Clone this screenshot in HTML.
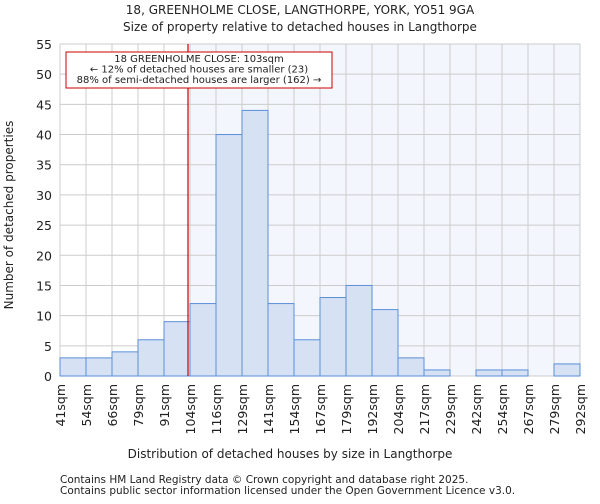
<!DOCTYPE html>
<html><head><meta charset="utf-8"><style>
body{margin:0;background:#fff;font-family:"DejaVu Sans","Liberation Sans",sans-serif}
svg text{font-family:"DejaVu Sans","Liberation Sans",sans-serif;fill:#222}
</style></head><body>
<svg width="600" height="500">
<text x="300" y="14" text-anchor="middle" font-size="12">18, GREENHOLME CLOSE, LANGTHORPE, YORK, YO51 9GA</text>
<text x="300" y="31" text-anchor="middle" font-size="12">Size of property relative to detached houses in Langthorpe</text>
<g id="plot"></g>
<text x="290" y="458" text-anchor="middle" font-size="12">Distribution of detached houses by size in Langthorpe</text>
<text transform="translate(13,215) rotate(-90)" text-anchor="middle" font-size="12">Number of detached properties</text>
<text x="60" y="483" font-size="10.5" fill="#444">Contains HM Land Registry data © Crown copyright and database right 2025.</text>
<text x="60" y="494" font-size="10.5" fill="#444">Contains public sector information licensed under the Open Government Licence v3.0.</text>
</svg>
<script>
const binLabels=["41sqm","54sqm","66sqm","79sqm","91sqm","104sqm","116sqm","129sqm","141sqm","154sqm","167sqm","179sqm","192sqm","204sqm","217sqm","229sqm","242sqm","254sqm","267sqm","279sqm","292sqm"];
const counts=[3,3,4,6,9,12,40,44,12,6,13,15,11,3,1,0,1,1,0,2];
const yTicks=[0,5,10,15,20,25,30,35,40,45,50,55];
const propertySize=103;
const NS="http://www.w3.org/2000/svg";
const g=document.getElementById("plot");
const x0=60,x1=580,yTop=44,yBot=376,yMax=55;
const bw=(x1-x0)/counts.length;
const xs=i=>x0+i*bw;
const ys=v=>yBot-(v/yMax)*(yBot-yTop);
const edges=binLabels.map(s=>parseFloat(s));
function sx(v){for(let i=0;i<edges.length-1;i++){if(v>=edges[i]&&v<=edges[i+1])return xs(i)+bw*(v-edges[i])/(edges[i+1]-edges[i]);}return x1;}
function mk(t,a){const e=document.createElementNS(NS,t);for(const k in a)e.setAttribute(k,a[k]);g.appendChild(e);return e;}
const px=sx(propertySize);
let e=mk("rect",{x:px,y:yTop,width:x1-px,height:yBot-yTop,fill:"#f4f6fd"});


yTicks.forEach(t=>{
 let l=mk("line",{x1:x0,x2:x1,y1:ys(t),y2:ys(t),stroke:"#cccccc"});
 
 
 let tx=mk("text",{x:x0-8,y:ys(t)+5,"text-anchor":"end","font-size":"12.5"});tx.textContent=t;
 
 
});
binLabels.forEach((s,i)=>{
 let l=mk("line",{x1:xs(i),x2:xs(i),y1:yTop,y2:yBot,stroke:"#cccccc"});
 
 
 let tx=mk("text",{transform:`translate(${xs(i)+5},${yBot+8}) rotate(-90)`,"text-anchor":"end","font-size":"12.5"});tx.textContent=s;
 
 
});
counts.forEach((c,i)=>{
 if(c<=0)return;
 let r=mk("rect",{x:xs(i),y:ys(c),width:bw,height:yBot-ys(c),fill:"#d6e1f4",stroke:"#5a8fd8","stroke-width":1});
 
 
});
e=mk("line",{x1:px,x2:px,y1:yTop,y2:yBot,stroke:"#cc0000","stroke-width":1.2});


e=mk("rect",{x:66,y:52,width:266,height:36,fill:"#fff",stroke:"#cc0000"});


["18 GREENHOLME CLOSE: 103sqm","← 12% of detached houses are smaller (23)","88% of semi-detached houses are larger (162) →"].forEach((s,i)=>{
 let t=mk("text",{x:199,y:62+i*10.5,"text-anchor":"middle","font-size":"10"});t.textContent=s;
 
 
});
</script>
</body></html>
